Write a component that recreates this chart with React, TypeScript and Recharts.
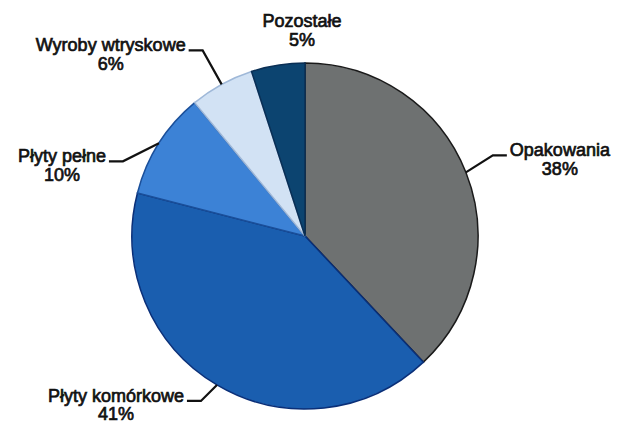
import React from 'react';
import { PieChart, Pie, Cell } from 'recharts';

const categories = ['Opakowania', 'Płyty komórkowe', 'Płyty pełne', 'Wyroby wtryskowe', 'Pozostałe'];
const shares = [38, 41, 10, 6, 5];
const colors = ['#6e7171', '#1a5eaf', '#3c82d6', '#d2e2f4', '#0c4470'];
const outlines = ['#1a1a1a', '#0a2f78', '#1a4f9a', '#9fb8d8', '#0a2f55'];

const pieData = categories.map((name, i) => ({ name, value: shares[i] }));

// where each leader line bends, relative to the slice edge (null = no line, label above)
const elbows: Record<string, [number, number] | null> = {
  'Opakowania': [27, -17],
  'Płyty komórkowe': [-16, 16],
  'Płyty pełne': [-36, 18],
  'Wyroby wtryskowe': [-19, -34],
  'Pozostałe': null,
};

const FONT = '"Liberation Sans", Arial, sans-serif';
const FONT_SIZE = 18;
const LINE = 18.5;

let ctx: CanvasRenderingContext2D | null = null;
const textWidth = (s: string) => {
  if (!ctx) ctx = document.createElement('canvas').getContext('2d');
  if (!ctx) return s.length * 9;
  ctx.font = `${FONT_SIZE}px ${FONT}`;
  return ctx.measureText(s).width;
};

const RAD = Math.PI / 180;

const renderLabel = (props: any) => {
  const { cx, cy, midAngle, outerRadius, name, value } = props;
  const ex = cx + outerRadius * Math.cos(-midAngle * RAD);
  const ey = cy + outerRadius * Math.sin(-midAngle * RAD);
  const elbow = elbows[name];
  const pct = `${value}%`;
  const textStyle = {
    fontFamily: FONT,
    fontSize: FONT_SIZE,
    fill: '#111',
    stroke: '#111',
    strokeWidth: 0.7,
  };

  if (!elbow) {
    const tx = cx - 3;
    const ty = cy - outerRadius - 36;
    return (
      <text x={tx} y={ty} textAnchor="middle" style={textStyle}>
        <tspan x={tx}>{name}</tspan>
        <tspan x={tx} dy={LINE}>{pct}</tspan>
      </text>
    );
  }

  const bx = ex + elbow[0];
  const by = ey + elbow[1];
  const dir = elbow[0] >= 0 ? 1 : -1;
  const hx = bx + dir * 14;
  const w = textWidth(name);
  const tx = hx + dir * (3 + w / 2);
  const ty = by + 1;

  return (
    <g>
      <polyline
        points={`${ex},${ey} ${bx},${by} ${hx},${by}`}
        fill="none"
        stroke="#111"
        strokeWidth={2.2}
      />
      <text x={tx} y={ty} textAnchor="middle" style={textStyle}>
        <tspan x={tx}>{name}</tspan>
        <tspan x={tx} dy={LINE}>{pct}</tspan>
      </text>
    </g>
  );
};

export default function App() {
  return (
    <div style={{ position: 'absolute', left: 0, top: 0, width: 626, height: 423, background: '#fff' }}>
      <PieChart width={626} height={423} margin={{ top: 0, right: 0, bottom: 0, left: 0 }}>
        <Pie
          data={pieData}
          dataKey="value"
          nameKey="name"
          cx={305}
          cy={236}
          outerRadius={173}
          startAngle={90}
          endAngle={-270}
          label={renderLabel}
          labelLine={false}
          isAnimationActive={false}
        >
          {pieData.map((entry, i) => (
            <Cell key={entry.name} fill={colors[i]} stroke={outlines[i]} strokeWidth={1.5} />
          ))}
        </Pie>
      </PieChart>
    </div>
  );
}
